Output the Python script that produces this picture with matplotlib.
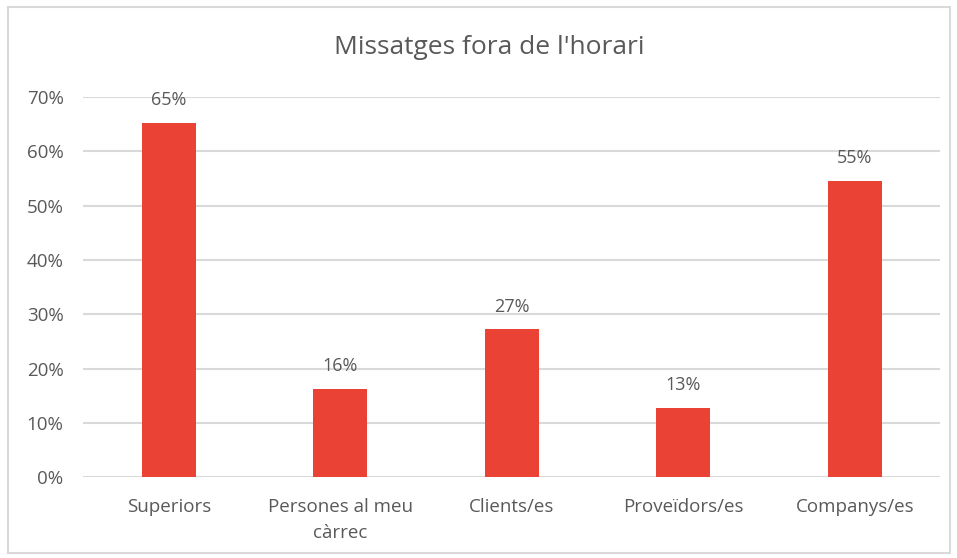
import matplotlib.pyplot as plt
from matplotlib.patches import Rectangle
from matplotlib.ticker import PercentFormatter

categories = ['Superiors', 'Persones al meu\ncàrrec', 'Clients/es', 'Proveïdors/es', 'Companys/es']
values = [65.3, 16.3, 27.2, 12.8, 54.6]
labels = ['65%', '16%', '27%', '13%', '55%']

plt.rcParams['font.family'] = ['Open Sans', 'DejaVu Sans']
txt = '#595959'

fig = plt.figure(figsize=(9.57, 5.58), dpi=100)
ax = fig.add_axes([0.0867, 0.145, 0.896, 0.681])

# chart border
fig.patches.append(Rectangle((8/957, 5/558), 942/957, 546/558, transform=fig.transFigure,
                             fill=False, edgecolor='#D9D9D9', linewidth=1.5))

x = range(len(categories))
bars = ax.bar(x, values, width=0.315, color='#EA4335', zorder=3)
for b, lab in zip(bars, labels):
    ax.annotate(lab, (b.get_x() + b.get_width()/2, b.get_height()), xytext=(0, 10),
                textcoords='offset points', ha='center', va='bottom', fontsize=13, color=txt)

ax.set_xlim(-0.5, 4.5)
ax.set_ylim(0, 70)
ax.set_yticks(range(0, 71, 10))
ax.yaxis.set_major_formatter(PercentFormatter(decimals=0))
ax.set_xticks(list(x))
ax.set_xticklabels(categories, linespacing=1.6)
ax.grid(axis='y', color='#D9D9D9', linewidth=1.5, zorder=0)
for s in ax.spines.values():
    s.set_visible(False)
ax.tick_params(length=0, labelsize=13.5, colors=txt)
ax.tick_params(axis='x', pad=15)
ax.tick_params(axis='y', pad=14)

fig.text(0.511, 0.914, "Missatges fora de l'horari", ha='center', va='center', fontsize=19, color=txt)

fig.savefig('out.png', dpi=100)
